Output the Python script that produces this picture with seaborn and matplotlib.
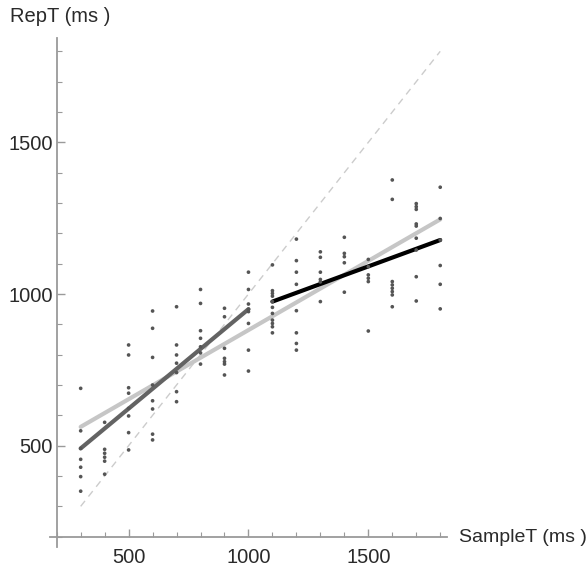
import numpy as np
import pandas as pd
import matplotlib
matplotlib.use("Agg")
import matplotlib.pyplot as plt
from matplotlib.ticker import MultipleLocator, FixedLocator
import seaborn as sns

# Sample durations (ms) and reproduced durations
sample_t = [300, 400, 500, 600, 700, 800, 900, 1000,
            1100, 1200, 1300, 1400, 1500, 1600, 1700, 1800]
rep_t = [
    [689, 549, 491, 455, 429, 398, 350],
    [577, 488, 475, 462, 449, 406],
    [832, 799, 691, 673, 623, 598, 543, 486],
    [944, 887, 791, 700, 648, 621, 538, 519],
    [958, 832, 799, 772, 741, 678, 645],
    [1015, 969, 879, 854, 826, 806, 769],
    [953, 925, 821, 788, 777, 769, 733],
    [1072, 1015, 967, 950, 942, 903, 815, 746],
    [1096, 1011, 1002, 993, 975, 956, 936, 914, 903, 892, 872],
    [1181, 1110, 1072, 1032, 945, 872, 837, 815],
    [1139, 1121, 1072, 1048, 1040, 975],
    [1187, 1134, 1123, 1103, 1006],
    [1114, 1090, 1063, 1052, 1041, 878],
    [1376, 1312, 1041, 1030, 1019, 1008, 997, 958],
    [1298, 1288, 1279, 1231, 1224, 1184, 1145, 1057, 977],
    [1352, 1249, 1178, 1094, 1032, 951],
]

# fitted lines (end points)
fit_all_x = [300, 1800]
fit_all_y = [562, 1246]
fit_short_x = [300, 1000]
fit_short_y = [491, 950]
fit_long_x = [1100, 1800]
fit_long_y = [975, 1178]
identity_x = [300, 1800]
identity_y = [300, 1800]

df = pd.DataFrame(
    [(x, y) for x, ys in zip(sample_t, rep_t) for y in ys],
    columns=["SampleT", "RepT"],
)

sns.set_theme(style="white")
plt.rcParams["font.family"] = ["Liberation Sans", "DejaVu Sans"]

fig = plt.figure(figsize=(5.86, 5.71), dpi=100)
ax = fig.add_axes([0.0845, 0.0415, 0.679, 0.8925])

sns.lineplot(x=identity_x, y=identity_y, ax=ax, color="#cccccc",
             linewidth=1.0, linestyle=(0, (5, 4)))
sns.scatterplot(data=df, x="SampleT", y="RepT", ax=ax, color="#555555",
                s=7, edgecolor="none", zorder=3)
sns.lineplot(x=fit_all_x, y=fit_all_y, ax=ax, color="#c6c6c6", linewidth=3.0)
sns.lineplot(x=fit_short_x, y=fit_short_y, ax=ax, color="#636363", linewidth=3.0)
sns.lineplot(x=fit_long_x, y=fit_long_y, ax=ax, color="black", linewidth=3.0)

ax.set_xlim(170, 1830)
ax.set_ylim(165, 1845)

# Mathematica style axes crossing at (200, 200)
for side in ["top", "right"]:
    ax.spines[side].set_visible(False)
ax.spines["left"].set_position(("data", 200))
ax.spines["bottom"].set_position(("data", 200))
for side in ["left", "bottom"]:
    ax.spines[side].set_color("#9a9a9a")
    ax.spines[side].set_linewidth(1.3)

ax.xaxis.set_major_locator(FixedLocator([500, 1000, 1500]))
ax.yaxis.set_major_locator(FixedLocator([500, 1000, 1500]))
ax.xaxis.set_minor_locator(MultipleLocator(100))
ax.yaxis.set_minor_locator(MultipleLocator(100))
ax.tick_params(which="major", direction="in", length=6, width=1, color="#9a9a9a",
               labelsize=14.5, labelcolor="#2a2a2a")
ax.tick_params(which="minor", direction="in", length=3.5, width=0.8, color="#9a9a9a")
ax.tick_params(axis="x", which="major", pad=8)
ax.tick_params(axis="y", which="major", pad=3)
ax.tick_params(left=True, bottom=True, which="both")

ax.set_xlabel("")
ax.set_ylabel("")

fig.text(10 / 586, 1 - 17 / 571, "RepT (ms )", fontsize=14.5, color="#2a2a2a",
         ha="left", va="center")
fig.text(459 / 586, 1 - 538 / 571, "SampleT (ms )", fontsize=14, color="#2a2a2a",
         ha="left", va="center")

fig.savefig("out.png", dpi=100)
